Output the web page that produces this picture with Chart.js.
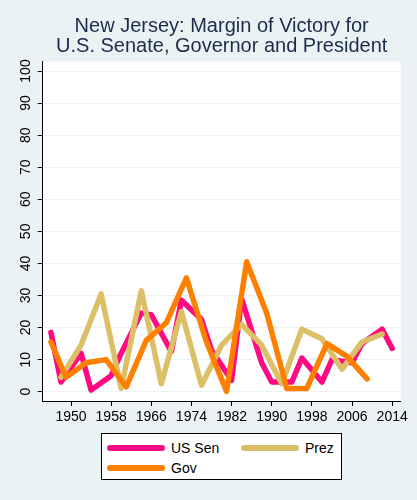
<!DOCTYPE html>
<html>
<head>
<meta charset="utf-8">
<script src="https://cdn.jsdelivr.net/npm/chart.js@4.4.1/dist/chart.umd.min.js"></script>
<style>
  html, body { margin: 0; padding: 0; background: #eaf2f3; }
  #wrap { position: relative; width: 417px; height: 500px; }
  #legend {
    position: absolute; left: 101px; top: 433px; width: 241px; height: 47px;
    box-sizing: border-box; border: 1px solid #000; background: #fff;
    font: 14px "Liberation Sans", Arial, sans-serif; color: #000;
  }
  .item { position: absolute; height: 20px; }
  .swatch { position: absolute; top: 7px; left: 0; width: 58px; height: 6px; border-radius: 3px; }
  .txt { position: absolute; left: 64px; top: 2px; white-space: nowrap; }
</style>
</head>
<body>
<div id="wrap">
  <canvas id="marginChart" width="417" height="500"></canvas>
  <div id="legend"></div>
</div>
<script>
// margins of victory (percentage points)
const senYears = [1946, 1948, 1952, 1954, 1958, 1960, 1964, 1966, 1970, 1972, 1976, 1978,
                  1982, 1984, 1988, 1990, 1994, 1996, 2000, 2002, 2006, 2008, 2012, 2014];
const senMargins = [18.5, 3, 12, 0.5, 5, 12, 24.5, 24, 12.5, 28.5, 22.5, 13,
                    3.5, 29, 9, 3, 3, 10.5, 3, 10, 9, 15, 19.5, 13.5];

const prezYears = [1948, 1952, 1956, 1960, 1964, 1968, 1972, 1976, 1980,
                   1984, 1988, 1992, 1996, 2000, 2004, 2008, 2012];
const prezMargins = [4.5, 14.5, 30.5, 1, 31.5, 2.5, 25, 2, 14.5,
                     21, 14.5, 2.5, 19.5, 16.5, 7, 15.5, 18];

const govYears = [1946, 1949, 1953, 1957, 1961, 1965, 1969, 1973, 1977,
                  1981, 1985, 1989, 1993, 1997, 2001, 2005, 2009];
const govMargins = [15.5, 4.5, 9, 10, 1.5, 16, 21.5, 35.5, 15.5,
                    0.1, 40.5, 24.5, 1, 1, 15, 11, 4];

const xTicks = [1950, 1958, 1966, 1974, 1982, 1990, 1998, 2006, 2014];
const yTicks = [0, 10, 20, 30, 40, 50, 60, 70, 80, 90, 100];

const seriesNames = ["US Sen", "Prez", "Gov"];
const seriesColors = ["#ff0a80", "#dbc068", "#ff8000"];

function toPoints(xs, ys) {
    return xs.map((x, i) => ({ x: x, y: ys[i] }));
}

const FONT = '"Liberation Sans", Arial, sans-serif';

// background + white plot region
const backdrop = {
    id: "backdrop",
    beforeDraw(chart) {
        const { ctx, chartArea: a } = chart;
        ctx.save();
        ctx.fillStyle = "#eaf2f3";
        ctx.fillRect(0, 0, chart.width, chart.height);
        ctx.fillStyle = "#fff";
        ctx.fillRect(a.left, a.top, a.right - a.left, a.bottom - a.top);
        ctx.restore();
    }
};

// vertical y tick labels, Stata style
const yLabels = {
    id: "yLabels",
    afterDraw(chart) {
        const ys = chart.scales.y;
        const ctx = chart.ctx;
        ctx.save();
        ctx.fillStyle = "#000";
        ctx.font = "14px " + FONT;
        ctx.textAlign = "center";
        ctx.textBaseline = "alphabetic";
        ys.ticks.forEach(t => {
            ctx.save();
            ctx.translate(ys.right - 13, ys.getPixelForValue(t.value));
            ctx.rotate(-Math.PI / 2);
            ctx.fillText(String(t.value), 0, 0);
            ctx.restore();
        });
        ctx.restore();
    }
};

const datasets = [
    { label: seriesNames[0], data: toPoints(senYears, senMargins), borderColor: seriesColors[0], order: 2 },
    { label: seriesNames[1], data: toPoints(prezYears, prezMargins), borderColor: seriesColors[1], order: 1 },
    { label: seriesNames[2], data: toPoints(govYears, govMargins), borderColor: seriesColors[2], order: 0 }
].map(d => Object.assign(d, {
    borderWidth: 5.5,
    pointRadius: 0,
    tension: 0,
    fill: false,
    borderJoinStyle: "round",
    borderCapStyle: "round"
}));

const ctx = document.getElementById("marginChart").getContext("2d");
new Chart(ctx, {
    type: "line",
    data: { datasets: datasets },
    options: {
        responsive: false,
        animation: false,
        layout: { padding: { left: 0, right: 16.3, top: 0, bottom: 0 } },
        plugins: {
            legend: { display: false },
            tooltip: { enabled: false },
            title: {
                display: true,
                fullSize: false,   // centre over the plot region
                text: ["New Jersey: Margin of Victory for", "U.S. Senate, Governor and President"],
                color: "#1c2c4c",
                font: { family: FONT, size: 20, weight: "normal", lineHeight: 1 },
                padding: { top: 16, bottom: 5.7 }
            }
        },
        scales: {
            x: {
                type: "linear",
                min: 1944.36,
                max: 2015.7,
                afterBuildTicks: s => { s.ticks = xTicks.map(v => ({ value: v })); },
                afterFit: s => { s.height = 99; },
                grid: { drawOnChartArea: false, color: "#000", tickLength: 5 },
                border: { color: "#000", width: 1 },
                ticks: {
                    color: "#000",
                    font: { family: FONT, size: 14 },
                    padding: 3,
                    maxRotation: 0,
                    callback: v => String(v)
                }
            },
            y: {
                min: -2.9,
                max: 102.9,
                afterBuildTicks: s => { s.ticks = yTicks.map(v => ({ value: v })); },
                afterFit: s => { s.width = 42.7; },
                grid: { color: "#eaf2f3", tickColor: "#000", tickLength: 5, lineWidth: 1 },
                border: { color: "#000", width: 1 },
                ticks: { display: false }
            }
        }
    },
    plugins: [backdrop, yLabels]
});

// legend box: two columns like the original
const legend = document.getElementById("legend");
const slots = [{ left: 5, top: 4 }, { left: 139, top: 4 }, { left: 5, top: 24 }];
seriesNames.forEach((name, i) => {
    const item = document.createElement("div");
    item.className = "item";
    item.style.left = slots[i].left + "px";
    item.style.top = slots[i].top + "px";
    item.innerHTML = '<span class="swatch" style="background:' + seriesColors[i] + '"></span>' +
                     '<span class="txt">' + name + '</span>';
    legend.appendChild(item);
});
</script>
</body>
</html>
